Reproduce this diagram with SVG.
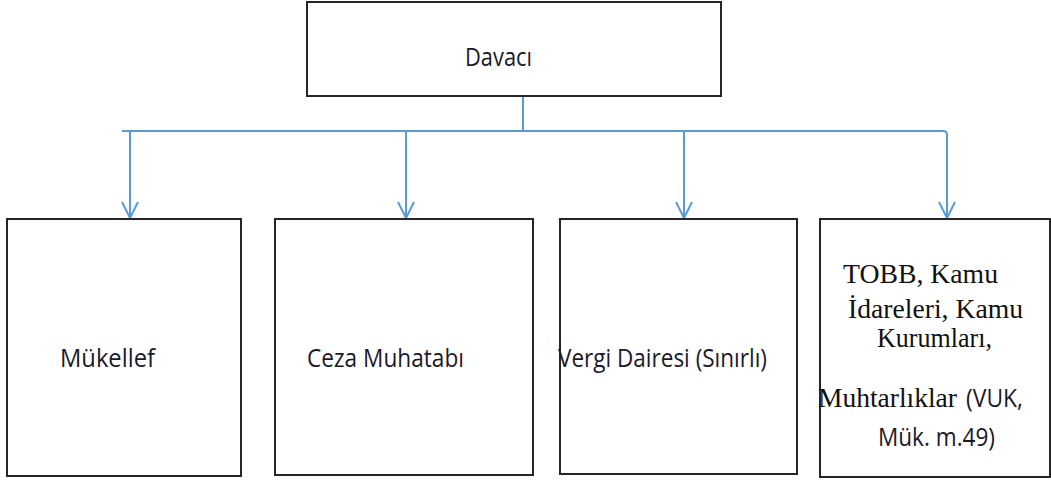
<svg xmlns="http://www.w3.org/2000/svg" width="1051" height="482" viewBox="0 0 1051 482">
  <defs>
    <style>
      .box { fill: #ffffff; stroke: #262626; stroke-width: 2; }
      .conn { fill: none; stroke: #5b9bd5; stroke-width: 2; }
      .sans { font-family: "Open Sans", Lato, "Liberation Sans", sans-serif; font-size: 25px; fill: #1a1a2a; }
      .serif { font-family: "Liberation Serif", "DejaVu Serif", serif; font-size: 28px; fill: #111111; }
    </style>
    <marker id="arrow" viewBox="0 0 20 20" refX="18" refY="10" markerWidth="20" markerHeight="20" markerUnits="userSpaceOnUse" orient="auto">
      <path d="M2,2 L18,10 L2,18" fill="none" stroke="#5b9bd5" stroke-width="2"/>
    </marker>
  </defs>
  <rect width="1051" height="482" fill="#ffffff"/>

  <g id="connectors">
    <path class="conn" d="M523,96 V131"/>
    <path class="conn" d="M122,131 H943 Q947,131 947,135"/>
    <path class="conn" d="M130,131 V218" marker-end="url(#arrow)"/>
    <path class="conn" d="M406,131 V218" marker-end="url(#arrow)"/>
    <path class="conn" d="M684,131 V218" marker-end="url(#arrow)"/>
    <path class="conn" d="M947,134 V218" marker-end="url(#arrow)"/>
  </g>

  <g id="davaci">
    <rect class="box" x="307" y="2" width="414" height="94"/>
    <text class="sans" x="465" y="66" textLength="67" lengthAdjust="spacingAndGlyphs">Davacı</text>
  </g>

  <g id="mukellef">
    <rect class="box" x="7" y="219" width="234" height="257"/>
    <text class="sans" x="60" y="367" font-size="26" textLength="95" lengthAdjust="spacingAndGlyphs">Mükellef</text>
  </g>

  <g id="ceza-muhatabi">
    <rect class="box" x="275" y="219" width="258" height="256"/>
    <text class="sans" x="307" y="367" font-size="26" textLength="157" lengthAdjust="spacingAndGlyphs">Ceza Muhatabı</text>
  </g>

  <g id="vergi-dairesi">
    <rect class="box" x="560" y="219" width="237" height="255"/>
    <text class="sans" x="558" y="367" font-size="26" textLength="209" lengthAdjust="spacingAndGlyphs">Vergi Dairesi (Sınırlı)</text>
  </g>

  <g id="tobb">
    <rect class="box" x="820" y="219" width="230" height="258"/>
    <text class="serif" x="843" y="283" textLength="155" lengthAdjust="spacingAndGlyphs">TOBB, Kamu</text>
    <text class="serif" x="848" y="318" textLength="175" lengthAdjust="spacingAndGlyphs">İdareleri, Kamu</text>
    <text class="serif" x="877" y="347" textLength="115" lengthAdjust="spacingAndGlyphs">Kurumları,</text>
    <text class="serif" x="818" y="407" textLength="139" lengthAdjust="spacingAndGlyphs">Muhtarlıklar</text>
    <text class="sans" x="966" y="407" textLength="57" lengthAdjust="spacingAndGlyphs">(VUK,</text>
    <text class="sans" x="878" y="446" textLength="117" lengthAdjust="spacingAndGlyphs">Mük. m.49)</text>
  </g>
</svg>
